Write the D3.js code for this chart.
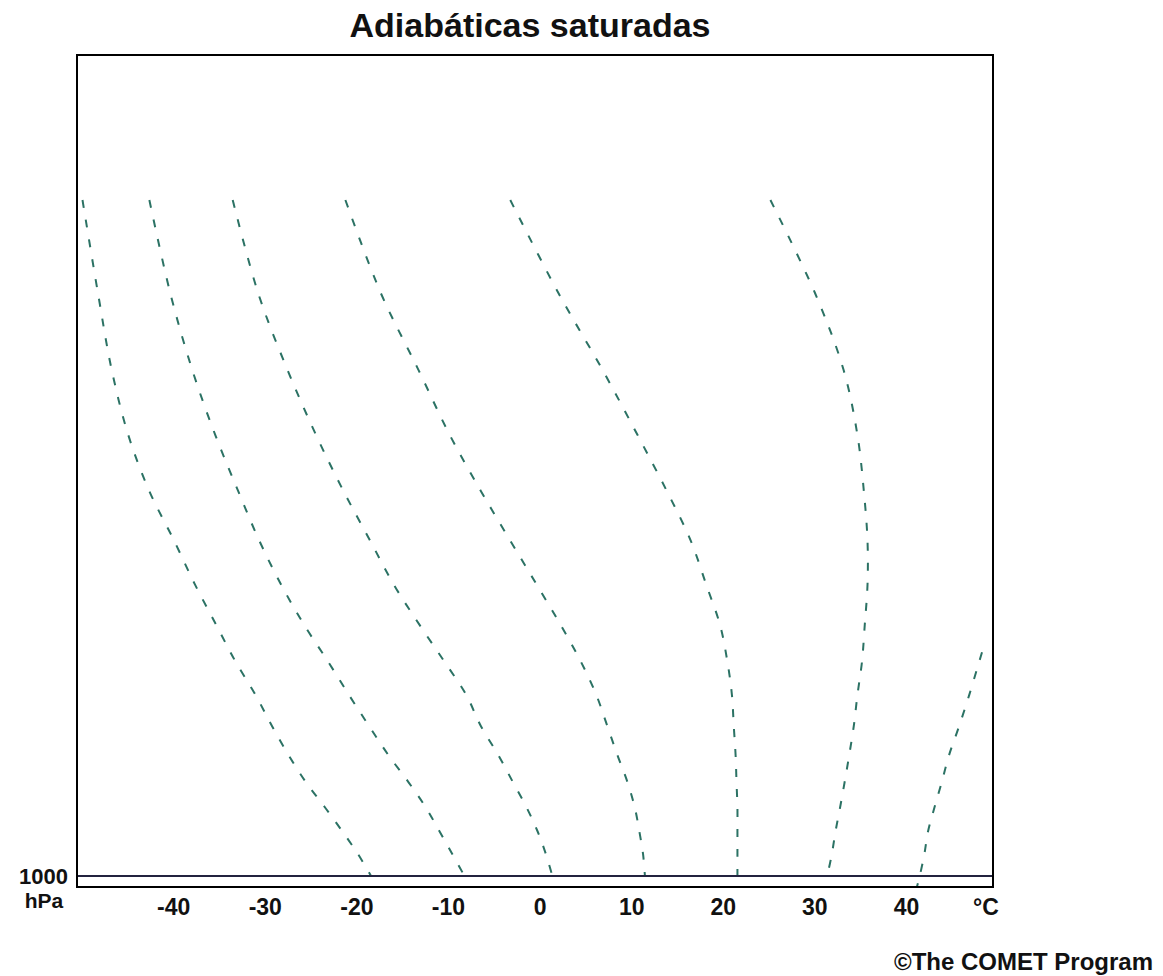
<!DOCTYPE html>
<html>
<head>
<meta charset="utf-8">
<script src="https://cdn.jsdelivr.net/npm/d3@7"></script>
<style>
  body { margin: 0; background: #fff; }
  svg { display: block; font-family: "Liberation Sans", Arial, sans-serif; font-weight: bold; }
</style>
</head>
<body>
<script>
// pressure levels (hPa) shared by the saturated adiabats
const levels = [200, 250, 300, 350, 400, 450, 500, 550, 600, 650, 700, 750, 800, 850, 900, 950, 1000];

// temperatures (°C) of each saturated adiabat at those levels
const adiabatM18 = [-49.9, -48.2, -46.7, -44.9, -42.6, -39.9, -37.6, -35.3, -33.2, -31.0, -29.2, -27.4, -25.5, -23.4, -21.5, -19.8, -18.4];
const adiabatM8  = [-42.6, -40.3, -37.9, -35.4, -32.9, -30.6, -28.2, -25.7, -23.1, -20.8, -18.6, -16.5, -14.3, -12.4, -10.9, -9.5, -8.2];
const adiabat2   = [-33.5, -30.7, -27.5, -24.4, -21.4, -18.5, -15.9, -13.1, -10.4, -8.0, -6.4, -4.5, -2.9, -1.4, -0.2, 0.7, 1.4];
const adiabat12  = [-21.2, -17.3, -13.2, -9.8, -6.4, -3.2, -0.3, 2.3, 4.5, 6.2, 7.4, 8.5, 9.6, 10.4, 10.9, 11.3, 11.5];
const adiabat22  = [-3.2, 2.1, 6.9, 10.7, 13.9, 16.5, 18.2, 19.7, 20.5, 21.0, 21.2, 21.4, 21.5, 21.6, 21.6, 21.6, 21.6];
const adiabat32  = [25.2, 30.1, 33.2, 34.7, 35.4, 35.8, 35.8, 35.5, 35.2, 34.7, 34.3, 33.8, 33.3, 32.8, 32.3, 31.9, 31.4];

// the warmest adiabat only shows in the lower part of the diagram
const levels42 = [587, 600, 650, 700, 750, 800, 850, 900, 950, 1000, 1026];
const adiabat42 = [48.3, 48.0, 46.9, 45.8, 44.7, 43.9, 43.1, 42.4, 42.0, 41.5, 41.2];

const tickValues = [-40, -30, -20, -10, 0, 10, 20, 30, 40];

const W = 1163, H = 976;

const svg = d3.select('body')
  .append('svg')
  .attr('width', W)
  .attr('height', H);

// temperature across, log pressure down
const x = d3.scaleLinear().domain([-50.5, 49.5]).range([77, 993]);
const y = d3.scaleLog().domain([1026.5, 141.6]).range([887, 55]);

const line = d3.line()
  .x((d) => x(d[0]))
  .y((d) => y(d[1]))
  .curve(d3.curveCatmullRom.alpha(0.5));

const series = [
  d3.zip(adiabatM18, levels),
  d3.zip(adiabatM8, levels),
  d3.zip(adiabat2, levels),
  d3.zip(adiabat12, levels),
  d3.zip(adiabat22, levels),
  d3.zip(adiabat32, levels),
  d3.zip(adiabat42, levels42)
];

svg.append('g')
  .selectAll('path')
  .data(series)
  .enter()
  .append('path')
  .attr('d', line)
  .attr('fill', 'none')
  .attr('stroke', '#2b7264')
  .attr('stroke-width', 2)
  .attr('stroke-dasharray', '8,12');

// 1000 hPa reference line
svg.append('line')
  .attr('x1', x.range()[0])
  .attr('x2', x.range()[1])
  .attr('y1', y(1000))
  .attr('y2', y(1000))
  .attr('stroke', '#23233f')
  .attr('stroke-width', 2);

// frame
svg.append('rect')
  .attr('x', x.range()[0])
  .attr('y', y.range()[1])
  .attr('width', x.range()[1] - x.range()[0])
  .attr('height', y.range()[0] - y.range()[1])
  .attr('fill', 'none')
  .attr('stroke', '#000')
  .attr('stroke-width', 2);

// temperature labels (plain hyphen like the original)
const xAxis = d3.axisBottom(x)
  .tickValues(tickValues)
  .tickSize(0)
  .tickPadding(12)
  .tickFormat((d) => String(d));

const gx = svg.append('g')
  .attr('transform', `translate(0, ${y.range()[0]})`)
  .call(xAxis);
gx.select('.domain').remove();
gx.selectAll('text')
  .attr('fill', '#111')
  .style('font-size', '23px')
  .style('font-weight', 'bold')
  .style('font-family', '"Liberation Sans", Arial, sans-serif');

svg.append('text')
  .attr('x', 986)
  .attr('y', 915)
  .attr('text-anchor', 'middle')
  .attr('fill', '#111')
  .style('font-size', '23px')
  .text('°C');

// pressure label
svg.append('text')
  .attr('x', 68)
  .attr('y', y(1000) + 8)
  .attr('text-anchor', 'end')
  .attr('fill', '#111')
  .style('font-size', '22px')
  .text('1000');

svg.append('text')
  .attr('x', 44)
  .attr('y', 908)
  .attr('text-anchor', 'middle')
  .attr('fill', '#111')
  .style('font-size', '21px')
  .text('hPa');

// title
svg.append('text')
  .attr('x', 530)
  .attr('y', 37)
  .attr('text-anchor', 'middle')
  .attr('fill', '#111')
  .style('font-size', '34px')
  .text('Adiabáticas saturadas');

// credit
svg.append('text')
  .attr('x', 1153)
  .attr('y', 970)
  .attr('text-anchor', 'end')
  .attr('fill', '#111')
  .style('font-size', '24px')
  .text('©The COMET Program');
</script>
</body>
</html>
